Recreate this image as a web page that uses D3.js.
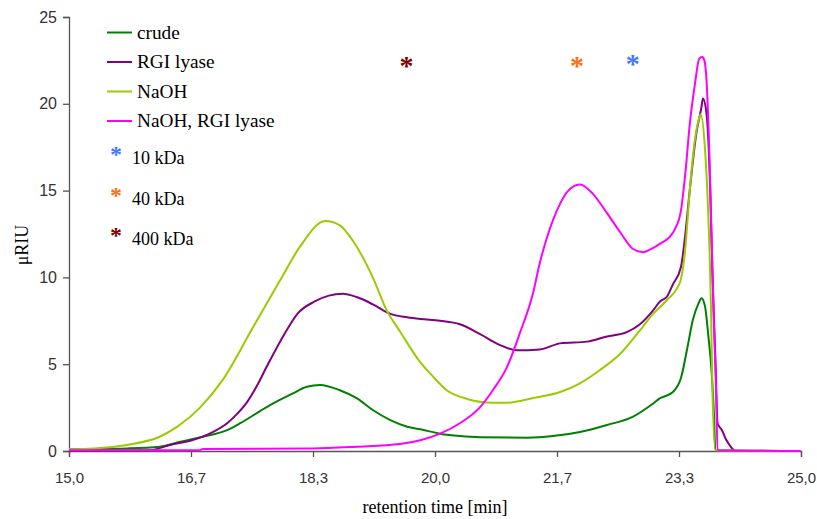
<!DOCTYPE html>
<html lang="en">
<head>
<meta charset="UTF-8">
<title>Retention time chart</title>
<script src="https://d3js.org/d3.v7.min.js"></script>
<style>
    body { margin: 0; background: #fff; }
    .tick text { font-family: "Liberation Sans", Arial, sans-serif; font-size: 16px; fill: #333; }
    .title { font-family: "Liberation Serif", "Times New Roman", serif; font-size: 18px; fill: #000; }
</style>
</head>
<body>
<div id="chart"></div>
<script>
// data (time in min, signal in µRIU)
var crudeT = [15.00, 15.79, 16.24, 16.52, 16.83, 17.16, 17.34, 17.61, 17.79, 18.05, 18.25, 18.43, 18.70, 18.93, 19.15, 19.39, 19.62, 19.80, 20.07, 20.34, 20.61, 21.26, 21.61, 21.98, 22.35, 22.70, 22.98, 23.07, 23.17, 23.25, 23.36, 23.45, 23.52, 23.60, 23.64, 23.69, 23.73, 23.78, 23.81, 23.83, 25.00];
var crudeV = [0.10, 0.15, 0.25, 0.53, 0.82, 1.2, 1.6, 2.3, 2.75, 3.3, 3.7, 3.8, 3.5, 3.04, 2.36, 1.78, 1.4, 1.25, 1.0, 0.86, 0.79, 0.77, 0.86, 1.1, 1.5, 1.97, 2.74, 3.03, 3.2, 3.4, 4.2, 6.0, 7.5, 8.5, 8.8, 8.3, 6.8, 4.5, 2.2, 0.05, 0];

var lyaseT = [15.00, 16.11, 16.38, 16.69, 16.97, 17.16, 17.30, 17.43, 17.56, 17.70, 17.98, 18.12, 18.35, 18.55, 18.74, 18.93, 19.15, 19.39, 19.62, 19.80, 20.07, 20.34, 20.61, 20.89, 21.12, 21.43, 21.71, 22.08, 22.35, 22.62, 22.80, 22.98, 23.07, 23.17, 23.25, 23.36, 23.42, 23.48, 23.57, 23.64, 23.66, 23.71, 23.76, 23.79, 23.83, 23.86, 23.92, 23.98, 24.05, 24.10, 25.00];
var lyaseV = [0.02, 0.05, 0.35, 0.63, 1.1, 1.6, 2.15, 2.8, 3.7, 4.85, 7.0, 7.9, 8.6, 8.95, 9.06, 8.87, 8.45, 7.9, 7.7, 7.6, 7.5, 7.3, 6.75, 6.1, 5.8, 5.85, 6.2, 6.3, 6.6, 6.85, 7.3, 8.1, 8.6, 8.9, 9.6, 10.6, 12.5, 15.0, 18.3, 19.8, 20.3, 19.4, 15.0, 10.2, 5.4, 1.6, 1.2, 0.63, 0.2, 0, 0];

var naohT = [15.00, 15.33, 15.79, 16.24, 16.48, 16.79, 17.10, 17.51, 17.88, 18.16, 18.50, 18.70, 18.88, 19.15, 19.34, 19.52, 19.80, 19.97, 20.16, 20.44, 20.79, 20.98, 21.34, 21.71, 21.98, 22.25, 22.53, 22.80, 22.98, 23.17, 23.31, 23.36, 23.42, 23.48, 23.55, 23.61, 23.63, 23.69, 23.73, 23.77, 23.79, 23.83, 25.00];
var naohV = [0.10, 0.15, 0.35, 0.82, 1.4, 2.5, 4.1, 7.1, 9.8, 11.8, 13.25, 13.0, 12.1, 10.0, 8.1, 6.9, 5.1, 4.3, 3.5, 3.0, 2.78, 2.78, 3.05, 3.4, 3.9, 4.65, 5.6, 6.95, 7.9, 8.7, 9.4, 9.9, 11.7, 15.0, 17.9, 19.2, 19.4, 17.3, 14.0, 8.3, 3.5, 0.05, 0];

var naohLyaseT = [15.00, 16.79, 16.83, 18.33, 18.93, 19.52, 19.80, 20.07, 20.34, 20.61, 20.79, 20.98, 21.16, 21.34, 21.43, 21.53, 21.71, 21.80, 21.98, 22.16, 22.35, 22.53, 22.70, 22.84, 23.00, 23.10, 23.21, 23.28, 23.36, 23.42, 23.48, 23.55, 23.61, 23.65, 23.68, 23.71, 23.75, 23.78, 23.81, 23.84, 23.86, 25.00];
var naohLyaseV = [0.05, 0.05, 0.12, 0.15, 0.25, 0.4, 0.62, 1.0, 1.6, 2.5, 3.5, 4.8, 6.8, 9.1, 10.8, 12.3, 14.25, 14.9, 15.35, 14.8, 13.7, 12.6, 11.65, 11.45, 11.75, 12.0, 12.35, 12.8, 13.85, 16.0, 18.8, 21.1, 22.6, 22.7, 22.5, 21.3, 16.9, 12.1, 7.35, 3.5, 0.05, 0];

var seriesNames = ["crude", "RGI lyase", "NaOH", "NaOH, RGI lyase"];
var seriesColors = ["#008000", "#800080", "#99cc00", "#ff00ff"];

// molecular weight markers
var markerNames = ["10 kDa", "40 kDa", "400 kDa"];
var markerT = [22.70, 21.94, 19.61];
var markerV = [22.43, 22.32, 22.32];
var markerColors = ["#4477ff", "#ff7010", "#800000"];

var xTicks = [15, 50 / 3, 55 / 3, 20, 65 / 3, 70 / 3, 25];
var xTickLabels = ["15,0", "16,7", "18,3", "20,0", "21,7", "23,3", "25,0"];
var yTicks = [0, 5, 10, 15, 20, 25];

var width = 817, height = 519;
var plotLeft = 69, plotRight = 801, plotTop = 17, plotBottom = 451;

var svg = d3.select("#chart").append("svg")
    .attr("width", width)
    .attr("height", height);

var x = d3.scaleLinear().domain([15, 25]).range([plotLeft, plotRight]);
var y = d3.scaleLinear().domain([0, 25]).range([plotBottom, plotTop]);

// axes
var xAxis = svg.append("g")
    .attr("transform", "translate(0," + plotBottom + ")")
    .call(d3.axisBottom(x).tickValues(xTicks).tickSize(6).tickPadding(15)
        .tickFormat(function(d, i) { return xTickLabels[i]; }));
xAxis.selectAll(".tick text").style("font-size", "15px");

var yAxis = svg.append("g")
    .attr("transform", "translate(" + plotLeft + ",0)")
    .call(d3.axisLeft(y).tickValues(yTicks).tickSize(6).tickPadding(6));

[xAxis, yAxis].forEach(function(a) {
    a.select(".domain").attr("stroke", "#555").attr("stroke-width", 1.3);
    a.selectAll(".tick line").attr("stroke", "#555").attr("stroke-width", 1.3);
});

// curves
var allT = [crudeT, lyaseT, naohT, naohLyaseT];
var allV = [crudeV, lyaseV, naohV, naohLyaseV];

var line = d3.line()
    .x(function(d) { return x(d[0]); })
    .y(function(d) { return y(d[1]); })
    .curve(d3.curveMonotoneX);

allT.forEach(function(ts, i) {
    var pts = ts.map(function(t, j) { return [t, allV[i][j]]; });
    svg.append("path")
        .datum(pts)
        .attr("d", line)
        .attr("fill", "none")
        .attr("stroke", seriesColors[i])
        .attr("stroke-width", 2);
});

// star markers in the plot
markerT.forEach(function(t, i) {
    svg.append("text")
        .attr("class", "title")
        .attr("x", x(t))
        .attr("y", y(markerV[i]) + 11)
        .attr("text-anchor", "middle")
        .style("font-size", "28px")
        .style("font-weight", "bold")
        .style("fill", markerColors[i])
        .text("*");
});

// legend
var legend = svg.append("g");
seriesNames.forEach(function(name, i) {
    var ly = 32.5 + i * 29.5;
    legend.append("line")
        .attr("x1", 107).attr("x2", 132)
        .attr("y1", ly).attr("y2", ly)
        .attr("stroke", seriesColors[i])
        .attr("stroke-width", 2);
    legend.append("text")
        .attr("class", "title")
        .attr("x", 137)
        .attr("y", ly + 6)
        .style("font-size", "19.3px")
        .text(name);
});

markerNames.forEach(function(name, i) {
    var ly = 158 + i * 40.5;
    legend.append("text")
        .attr("class", "title")
        .attr("x", 116)
        .attr("y", ly + 4)
        .attr("text-anchor", "middle")
        .style("font-size", "24px")
        .style("font-weight", "bold")
        .style("fill", markerColors[i])
        .text("*");
    legend.append("text")
        .attr("class", "title")
        .attr("x", 132)
        .attr("y", ly + 6)
        .text(name);
});

// axis titles
svg.append("text")
    .attr("class", "title")
    .attr("x", 435)
    .attr("y", 513)
    .attr("text-anchor", "middle")
    .text("retention time [min]");

svg.append("text")
    .attr("class", "title")
    .attr("transform", "translate(28,245) rotate(-90)")
    .attr("text-anchor", "middle")
    .text("μRIU");
</script>
</body>
</html>
